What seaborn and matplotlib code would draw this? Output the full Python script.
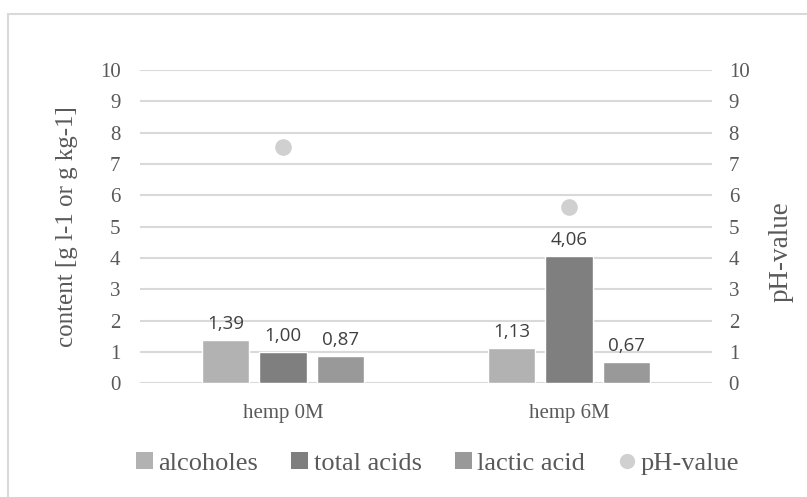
import pandas as pd
import matplotlib.pyplot as plt
import seaborn as sns
from matplotlib.patches import Patch, Rectangle
from matplotlib.lines import Line2D

# data
samples = ['hemp 0M', 'hemp 6M']
alcoholes = [1.39, 1.13]
total_acids = [1.00, 4.06]
lactic_acid = [0.87, 0.67]
ph_value = [7.55, 5.62]

series_names = ['alcoholes', 'total acids', 'lactic acid']
colors = ['#b2b2b2', '#7f7f7f', '#999999']

df = pd.DataFrame({'sample': samples, 'alcoholes': alcoholes,
                   'total acids': total_acids, 'lactic acid': lactic_acid})
long_df = df.melt(id_vars='sample', var_name='compound', value_name='content')

sns.set_style('white')
plt.rcParams['font.family'] = ['Liberation Serif', 'DejaVu Serif']

fig = plt.figure(figsize=(8.07, 4.97), dpi=100)
ax = fig.add_axes([0.1735, 0.2288, 0.7088, 0.6304])

# outer frame (only top and left edges fall inside the image)
fig.patches.append(Rectangle((8 / 807, -0.1), 1.2, (483 / 497) + 0.1, transform=fig.transFigure,
                             fill=False, edgecolor='#d9d9d9', linewidth=1.5))

sns.barplot(data=long_df, x='sample', y='content', hue='compound', hue_order=series_names,
            palette=colors, width=0.6, gap=0.175, ax=ax, legend=False, saturation=1)

# value labels
for cont in ax.containers:
    ax.bar_label(cont, labels=[f'{v:.2f}'.replace('.', ',') for v in cont.datavalues],
                 padding=5, fontsize=13.5, color='#404040', family=['Open Sans', 'DejaVu Sans'])

ax.set_xlim(-0.5, 1.5)
ax.set_ylim(0, 10)
ax.set_yticks(range(0, 11))
ax.grid(axis='y', color='#d9d9d9', linewidth=1.5)
ax.set_axisbelow(True)
for s in ax.spines.values():
    s.set_visible(False)
ax.tick_params(axis='y', length=0, pad=14, labelsize=15, labelcolor='#595959')
ax.tick_params(axis='x', length=0, pad=15, labelsize=15, labelcolor='#595959')
ax.set_xlabel('')
ax.set_ylabel('content [g l-1 or g kg-1]', fontsize=18, color='#595959', labelpad=16)

# pH on secondary axis
ax2 = ax.twinx()
sns.stripplot(x=samples, y=ph_value, jitter=False, color='#d0d0d0', size=12, ax=ax2, zorder=5)
ax2.set_xlim(-0.5, 1.5)
ax2.set_ylim(0, 10)
ax2.set_yticks(range(0, 11))
for s in ax2.spines.values():
    s.set_visible(False)
ax2.tick_params(axis='y', length=0, pad=12, labelsize=15, labelcolor='#595959')
ax2.set_ylabel('pH-value', fontsize=19.5, color='#595959', rotation=90, va='center')
ax2.yaxis.set_label_coords(1.12, 0.42)

handles = [Patch(facecolor=c, edgecolor='none') for c in colors]
handles.append(Line2D([], [], marker='o', linestyle='none', markersize=11,
                      markerfacecolor='#d0d0d0', markeredgecolor='none'))
fig.legend(handles, series_names + ['pH-value'], loc='center', bbox_to_anchor=(0.542, 0.068),
           ncol=4, frameon=False, fontsize=19, labelcolor='#595959', handlelength=0.65,
           handleheight=0.65, handletextpad=0.2, columnspacing=1.25)

plt.savefig('out.png', dpi=100)
